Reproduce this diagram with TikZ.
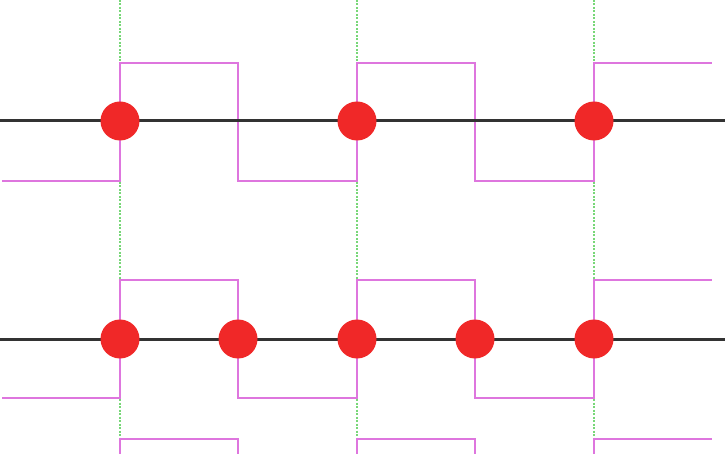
\documentclass[tikz,border=0pt]{standalone}
\begin{document}
\begin{tikzpicture}[x=1pt,y=-1pt,
  axisline/.style={draw=black!80,line width=3pt},
  wave/.style={draw=wavepink,line width=2pt,line join=miter},
  gridline/.style={draw=gridgreen,line width=2pt,dash pattern=on 2pt off 1.5pt},
  dot/.style={circle,fill=dotred,minimum size=39pt,inner sep=0pt}]
\definecolor{wavepink}{RGB}{222,118,222}
\definecolor{gridgreen}{RGB}{120,215,120}
\definecolor{dotred}{RGB}{240,40,40}
\useasboundingbox (0,0) rectangle (725,454);
\begin{scope}
\clip (0,0) rectangle (725,454);
% sampling instants
\foreach \x in {120,357,594}
  \draw[gridline] (\x,0) -- (\x,454);
% square waves
\draw[wave] (2,181) -- (120,181) -- (120,63) -- (238,63) -- (238,181) -- (357,181)
  -- (357,63) -- (475,63) -- (475,181) -- (594,181) -- (594,63) -- (712,63);
\draw[wave] (2,398) -- (120,398) -- (120,280) -- (238,280) -- (238,398) -- (357,398)
  -- (357,280) -- (475,280) -- (475,398) -- (594,398) -- (594,280) -- (712,280);
\draw[wave] (2,557) -- (120,557) -- (120,439) -- (238,439) -- (238,557) -- (357,557)
  -- (357,439) -- (475,439) -- (475,557) -- (594,557) -- (594,439) -- (712,439);
% time axes
\draw[axisline] (0,121) -- (725,121);
\draw[axisline] (0,339) -- (725,339);
\end{scope}
% rising-edge samples
\node[dot] (a1) at (120,121) {};
\node[dot] (a2) at (357,121) {};
\node[dot] (a3) at (594,121) {};
% samples on every edge
\node[dot] (b1) at (120,339) {};
\node[dot] (b2) at (238,339) {};
\node[dot] (b3) at (357,339) {};
\node[dot] (b4) at (475,339) {};
\node[dot] (b5) at (594,339) {};
\end{tikzpicture}
\end{document}
